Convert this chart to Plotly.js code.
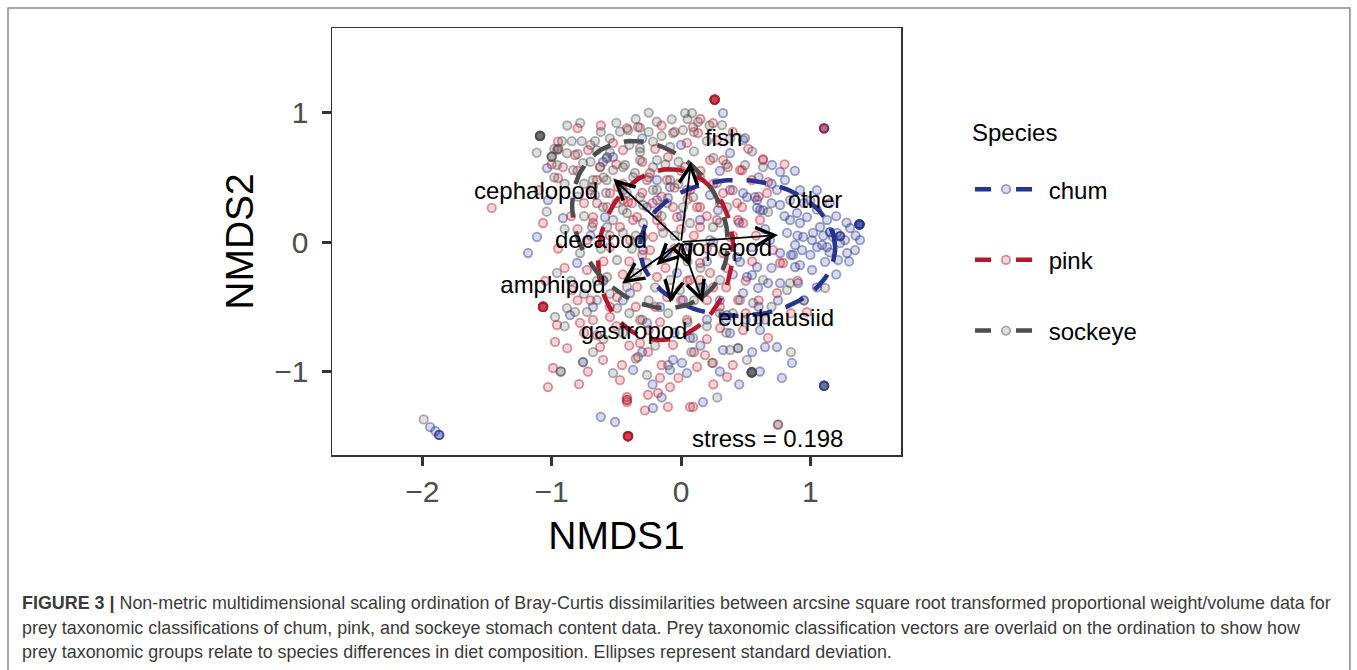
<!DOCTYPE html>
<html><head><meta charset="utf-8">
<script src="https://cdn.plot.ly/plotly-3.0.1.min.js"></script>
<style>html,body{margin:0;padding:0;background:#fff}#chart{width:1357px;height:670px}</style>
</head><body><div id="chart"></div>
<script>
// ---------- data ----------
const species = ['chum', 'pink', 'sockeye'];
const speciesRGB = ['39,52,143', '181,23,44', '77,77,77'];

const chumPts = [
[-1.036,0.571],[-1.029,0.324],[-0.913,0.185],[-1.114,0.039],[-1.183,-0.085],[-0.603,0.618],[-0.526,0.656],[-0.588,0.193],[-0.317,0.0],[-0.186,0.324],[-0.101,0.34],
[0.325,0.996],[0.495,0.803],[0.379,0.687],[0.704,0.595],[0.766,0.541],[0.804,0.479],[0.51,0.347],[0.572,0.347],[0.588,0.263],[0.843,0.17],[0.92,0.147],[0.897,0.224],[0.974,0.193],[0.82,0.07],[0.944,0.039],[1.021,0.07],[1.052,-0.039],[1.129,-0.039],[1.206,0.07],[1.23,-0.008],[1.284,-0.085],[0.936,-0.062],[0.882,-0.023],[0.549,-0.039],[0.688,0.015],[0.766,-0.085],[1.129,0.17],[1.176,0.039],[1.075,0.116],[0.224,0.363],[0.286,0.247],[0.046,0.402],
[1.268,0.015],[1.09,-0.023],[1.013,0.015],[1.307,0.108],
[0.92,0.40],[1.0,0.32],[0.843,0.324],[0.766,0.286],[0.611,0.247],[1.384,0.015],[1.346,-0.062],[1.214,-0.139],[1.114,-0.154],[1.013,-0.216],[0.92,-0.178],
[-0.804,-0.162],[-0.858,-0.564],[-0.758,-0.927],[-0.371,-0.988],[-0.217,-1.282],[-0.51,-1.39],[-0.062,-0.911],[-0.085,-0.988],[-0.681,-0.502],[-0.263,-0.625],
[0.866,-0.1],[0.549,-0.255],[0.596,-0.355],[0.673,-0.317],[0.766,-0.317],[0.905,-0.317],[0.882,-0.193],[0.456,-0.154],[0.611,-0.68],[0.65,-0.811],[0.742,-0.811],[0.858,-0.934],[0.17,-1.236],[0.046,-1.012],[0.008,-0.934],[0.379,-0.703],[0.325,-0.834],[0.441,-0.819],[0.356,-0.564],[0.48,-0.394],
[-1.94,-1.43],[-1.90,-1.46],[-1.87,-1.49],
[-0.186,0.479],[-0.085,0.425],[-0.263,0.27],[0.147,0.17],[0.07,-0.039],[-0.108,-0.085],[-0.294,-0.062],[-0.031,-0.239],[0.17,-0.347],[0.015,-0.448],[-0.162,-0.502],[0.51,-0.27],[0.588,-0.193],[0.379,0.402],[0.48,0.378],[0.588,0.324],[0.433,-0.116],[0.742,0.402],[0.634,0.247],[-0.394,-0.394],[-0.572,0.656],
[-0.62,-1.35],[-0.22,-1.1],[0.61,-1.0],[0.07,-0.74],
[0.6,0.5],[0.7,0.45],[0.95,0.3],[1.05,0.25],[1.15,0.3],[1.2,0.2],[1.28,0.15],[1.35,0.05],[1.3,-0.15],[1.2,-0.25],[1.05,-0.35],[0.95,-0.45],[0.75,-0.45],[0.6,-0.5],[0.5,-0.6],[0.3,-0.45],[0.2,-0.6],[0.15,-0.8],[0.55,-0.85],[0.3,-1.0],[0.45,-1.1],[-0.05,-0.7],[-0.3,-0.85],[-0.45,-0.45],[-0.6,-0.3],[-0.7,0.05],[-0.45,0.4],[-0.3,0.8],[0.0,0.75],[0.3,0.55],[0.25,0.0],[0.4,-0.25],[0.0,0.2],[0.65,0.1],[0.85,-0.1],[0.7,-0.2],[1.05,0.4],[0.88,0.55],[-0.15,-1.2],[0.78,-1.05],
[0.8,0.2],[0.9,0.05],[1.0,-0.1],[1.1,0.05],[1.15,-0.08],[0.7,0.3],[0.45,0.15],[0.2,-0.15],[0.35,-0.6],[0.65,-0.6]
];
// repeated (identical) samples: [x, y, count]
const chumStacks = [[1.23,0.046,3],[1.152,0.077,2],[1.38,0.137,8],[1.106,0.878,3],[1.106,-1.11,5],[-1.87,-1.49,2],[0.547,-1.006,2]];

const pinkPts = [
[-0.951,0.775],[-0.82,0.672],[-0.951,0.494],[-0.719,0.71],[-0.526,0.764],[-0.418,0.88],[-0.333,0.888],[-1.464,0.263],[-1.067,0.147],[-0.959,0.71],[-0.913,0.579],[-0.65,0.479],[-0.487,0.425],[-0.41,0.309],[-0.263,0.479],[-0.681,0.193],[-0.572,0.27],[-0.472,0.116],[-0.371,0.17],[-0.186,0.17],[-0.294,0.039],[-0.062,0.27],[-0.101,0.656],[-0.727,0.015],
[0.093,0.888],[0.131,0.842],[0.046,0.765],[0.247,0.919],[0.278,0.788],[0.031,0.579],[0.224,0.633],[0.472,0.556],[0.634,0.641],[0.673,0.463],[0.325,0.378],[0.472,0.27],[0.124,0.27],[0.441,0.17],[0.147,0.116],[0.611,0.17],[0.665,0.378],[0.549,0.479],[0.363,0.579],
[-0.959,-0.641],[-0.974,-0.772],[-0.99,-0.973],[-1.029,-1.12],[-0.781,-0.625],[-0.626,-0.811],[-0.603,-0.911],[-0.456,-0.95],[-0.418,-1.197],[-0.418,-1.236],[-0.317,-0.78],[-0.255,-0.849],[-0.178,-1.166],[-0.085,-1.12],[-0.101,-1.274],[-0.681,-0.602],[-0.549,-0.579],[-0.727,-0.216],[-0.843,-0.371],
[0.766,-0.162],[0.742,-0.394],[0.974,-0.541],[0.673,-0.741],[0.093,-1.274],[0.356,-1.042],[0.247,-0.934],[0.124,-0.965],[0.147,-0.293],[0.046,-0.602],[0.201,-0.448],[0.441,-0.448],[0.302,-0.664],[0.48,-0.68],
[-0.108,0.479],[-0.24,0.533],[0.07,0.402],[0.147,0.27],[-0.031,0.193],[-0.186,0.224],[-0.34,0.193],[-0.449,0.324],[-0.549,0.378],[-0.217,0.039],[-0.394,0.015],[-0.549,-0.039],[-0.24,-0.062],[0.147,-0.162],[0.224,-0.239],[0.07,-0.293],[-0.186,-0.27],[-0.34,-0.347],[-0.495,-0.425],[-0.108,-0.425],[0.325,-0.085],[0.379,0.039],[0.48,0.147],[0.278,0.17],[0.433,0.301],[0.456,0.556],[0.325,0.633],[-0.626,0.579],[-0.449,0.71],[-0.68,0.147],[-0.603,-0.293],[0.789,-0.162],[0.711,-0.062],[0.634,0.633],
[-0.789,-1.097],[-0.255,-1.18],[0.07,-1.274],[-0.472,-1.066],[-0.162,-1.05],[0.186,-0.873],[-0.062,-0.795],[-0.317,-0.602],[-0.162,-0.618],
[-0.8,0.1],[-0.9,-0.2],[-0.05,-0.05],[0.0,0.1],[-0.15,0.35],[0.25,0.45],[0.35,-0.35],[-0.7,-0.45],[-0.35,-0.5],[0.55,-0.15],
[-0.7,0.4],[-0.75,0.3],[-0.45,0.45],[-0.3,0.62],[-0.2,0.72],[-0.05,0.85],[0.15,0.55],[0.3,0.3],[0.4,0.05],[0.2,-0.05],[-0.4,-0.15],[-0.6,-0.15],[-0.8,-0.45],[-0.5,-0.65],[-0.25,-0.68],[0.0,-0.45],[0.3,-0.5],[0.5,-0.55],[0.6,-0.45],[0.1,-0.85],[-0.35,-0.9],[-0.65,-0.72],[-0.88,-0.82],[-0.55,0.05],[-0.15,0.12],[0.05,0.33],[0.2,0.2],[-0.3,0.38],[-0.12,-0.2],[0.35,-0.2],[0.58,0.05],[0.6,0.35],[0.8,0.6],[0.52,0.72],[0.4,0.85],[-0.62,0.9],[-0.8,0.88],[-1.0,0.6],[-1.1,0.4],[-0.85,0.2],[-0.95,-0.05],[-1.05,-0.3],[-0.72,-1.0],[-0.15,-0.95],[0.25,-1.1],[0.4,-0.95],[0.9,-0.3],[0.85,-0.55],[-0.02,-1.05],[-0.28,-1.3],
[-0.5,0.6],[-0.38,0.3],[-0.22,0.3],[-0.05,0.42],[0.1,0.05],[-0.3,-0.1],[-0.45,-0.25],[-0.2,-0.5],[0.05,-0.3],[0.25,-0.35],[-0.65,0.3],[-0.8,0.55],[-0.15,0.9],[0.15,0.95],[0.4,0.4],[0.5,-0.3],[-0.55,-0.5],[-0.75,-0.7],[-0.4,-0.8],[0.2,-0.75]
];
const pinkStacks = [[-1.067,-0.50,8],[-0.41,-1.50,8],[0.26,1.10,8],[1.106,0.878,2],[-0.418,-1.22,2],[0.75,-1.41,1]];

const sockeyePts = [
[-1.116,0.69],[-0.845,0.78],[-0.768,0.78],[-0.665,0.78],[-0.472,0.852],[-0.41,0.865],[-0.317,0.883],[-0.188,0.929],[-0.072,0.948],[-0.062,0.842],[-0.217,0.775],[-0.317,0.697],[-0.575,0.646],[-0.626,0.581],[-0.433,0.595],[-0.356,0.533],[-0.317,0.633],[-0.681,0.425],[-1.039,0.234],[-0.665,0.363],[-0.575,0.479],[-0.217,0.579],[-0.085,0.479],[-0.526,0.17],[-0.418,0.224],[-0.294,0.286],[-0.186,0.402],[-0.781,-0.085],[-0.688,0.116],[-0.835,0.556],[-0.959,0.595],[-0.882,0.687],[-0.758,0.61],[-0.526,0.556],
[0.031,0.996],[0.085,0.996],[0.131,0.927],[0.317,0.903],[0.48,0.788],[0.015,0.865],[0.495,0.595],[0.634,0.579],[0.356,0.27],[0.673,0.232],[0.247,0.116],
[-0.959,-0.239],[-0.882,-0.51],[-0.82,-0.54],[-0.727,-0.54],[-0.974,-0.579],[-0.758,-0.927],[-0.333,-0.888],[-0.263,-1.027],[-0.526,-1.012],[-0.572,-0.27],[-0.418,-0.347],[-0.65,-0.448],[-0.495,-0.51],
[1.114,-0.355],[0.82,-0.371],[0.557,-0.471],[0.379,-0.834],[0.51,-0.911],[0.441,-0.819],[0.093,-0.741],[0.24,-0.934],[0.843,-0.317],
[-0.65,0.71],[-0.55,0.69],[-0.317,0.726],[-0.186,0.633],[-0.085,0.734],[-0.68,0.479],[-0.317,0.347],[-0.217,0.402],[-0.108,0.301],[0.015,0.27],[0.07,0.147],[0.224,0.015],[-0.294,0.147],[-0.139,0.07],[-0.449,0.07],[-0.572,0.116],[-0.495,-0.139],[-0.34,-0.239],[-0.263,-0.162],[-0.085,-0.293],[-0.008,-0.371],[0.302,-0.293],[0.456,-0.448],[0.634,-0.293],[0.278,0.456],[0.147,0.502],[0.093,0.347],[-0.449,0.579],[-0.371,0.502],[-0.603,0.27],
[-0.3,-0.6],[-0.1,-0.55],[0.05,-0.62],[-0.8,0.35],[-0.9,0.45],[0.2,0.78],[0.1,0.7],[-0.5,0.92],[-0.62,0.85],[-0.92,0.78],[-0.98,0.72],[-0.75,0.2],[-0.85,-0.3],[-0.6,-0.75],[-0.2,-0.8],[0.3,-0.55],[0.15,-0.2],[-0.05,0.05],
[-1.99,-1.37],[0.75,-1.41],[1.106,-1.11],
[-0.75,0.45],[-0.58,0.38],[-0.42,0.38],[-0.25,0.5],[-0.12,0.6],[-0.02,0.62],[0.1,0.85],[0.22,0.9],[0.38,0.8],[0.55,0.7],[-0.88,0.9],[-0.78,0.92],[-0.35,0.95],[-0.25,1.0],[-0.15,0.82],[-0.7,0.62],[-0.98,0.5],[-0.9,0.1],[-0.62,-0.05],[-0.38,-0.05],[-0.2,-0.35],[0.1,-0.45],[0.2,-0.65],[0.35,-0.7],[-0.45,-0.7],[-0.1,-0.95],[0.05,-0.15],[-0.02,0.45],[0.35,0.6],[0.6,-0.6],[0.7,-0.5],[0.95,-0.45],[-0.9,-0.65],[-0.68,-0.85],[-0.4,-0.55],[0.3,0.15],[-0.45,0.25],[0.08,-0.85],[0.85,-0.85],[0.28,-1.2],
[-0.55,0.8],[-0.4,0.75],[-0.7,0.75],[-0.8,0.68],[-0.25,0.85],[0.0,0.55],[-0.5,0.3],[-0.35,0.05],[-0.65,-0.3],[-0.75,-0.4],[-0.55,-0.4],[-0.25,-0.45],[0.15,-0.35],[0.4,-0.55],[0.05,0.95],[0.25,0.65],[-0.6,0.5],[-0.15,0.2]
];
const sockeyeStacks = [[-1.09,0.82,8],[0.547,-1.006,6],[-1.0,0.66,3],[-0.95,0.72,2],[-0.93,-1.0,2]];

// standard-deviation ellipses: centre, semi-axes, rotation (deg)
const ellCX = [0.437, -0.12, -0.24];
const ellCY = [-0.046, -0.097, 0.135];
const ellA = [0.755, 0.663, 0.691];
const ellB = [0.525, 0.519, 0.549];
const ellAngle = [0, 81.7, -54];

// prey vectors (envfit)
const vecNames = ['fish','cephalopod','other','amphipod','gastropod','euphausiid','decapod','copepod'];
const vecX = [0.077, -0.525, 0.75, -0.456, -0.085, 0.17, -0.19, 0.07];
const vecY = [0.62, 0.49, 0.054, -0.32, -0.47, -0.47, -0.18, -0.19];
const labX = [0.329, -1.121, 1.036, -0.99, -0.363, 0.735, -0.619, 0.348];
const labY = [0.788, 0.378, 0.311, -0.345, -0.703, -0.606, 0.002, -0.062];

const stressText = 'stress = 0.198';
const stressX = 0.666, stressY = -1.516;

const xTicks = [-2, -1, 0, 1];
const yTicks = [-1, 0, 1];

const captionLines = [
 '<b>FIGURE 3 |</b> Non-metric multidimensional scaling ordination of Bray-Curtis dissimilarities between arcsine square root transformed proportional weight/volume data for',
 'prey taxonomic classifications of chum, pink, and sockeye stomach content data. Prey taxonomic classification vectors are overlaid on the ordination to show how',
 'prey taxonomic groups relate to species differences in diet composition. Ellipses represent standard deviation.'
];

// ---------- build ----------
const FONT = 'Liberation Sans, Arial, Helvetica, sans-serif';
const allPts = [chumPts, pinkPts, sockeyePts];
const allStacks = [chumStacks, pinkStacks, sockeyeStacks];
const traces = [];

function markerStyle(i) {
  return {size: 8.5, color: 'rgba(' + speciesRGB[i] + ',0.18)',
          line: {color: 'rgba(' + speciesRGB[i] + ',0.45)', width: 1.8}};
}

allPts.forEach((pts, i) => {
  const xs = pts.map(p => p[0]), ys = pts.map(p => p[1]);
  allStacks[i].forEach(s => { for (let k = 0; k < s[2]; k++) { xs.push(s[0]); ys.push(s[1]); } });
  traces.push({type: 'scatter', mode: 'markers', x: xs, y: ys,
    marker: markerStyle(i), showlegend: false, hoverinfo: 'skip'});
});

const dashStyle = '20px,14px';
species.forEach((s, i) => {
  const ex = [], ey = [];
  const th = ellAngle[i] * Math.PI / 180;
  for (let k = 0; k <= 120; k++) {
    const t = 2 * Math.PI * k / 120;
    const u = ellA[i] * Math.cos(t), v = ellB[i] * Math.sin(t);
    ex.push(ellCX[i] + u * Math.cos(th) - v * Math.sin(th));
    ey.push(ellCY[i] + u * Math.sin(th) + v * Math.cos(th));
  }
  traces.push({type: 'scatter', mode: 'lines', x: ex, y: ey, showlegend: false, hoverinfo: 'skip',
    line: {color: 'rgb(' + speciesRGB[i] + ')', width: 4.5, dash: dashStyle}});
});

// legend entries
species.forEach((s, i) => {
  traces.push({type: 'scatter', mode: 'lines+markers', x: [null], y: [null], name: '\u00a0' + s,
    legendgroup: s, marker: markerStyle(i),
    line: {color: 'rgb(' + speciesRGB[i] + ')', width: 4.5, dash: '16px,25px'}});
});

// vector labels
traces.push({type: 'scatter', mode: 'text', x: labX, y: labY, text: vecNames, showlegend: false,
  hoverinfo: 'skip', textfont: {family: FONT, size: 24, color: '#000'}, textposition: 'middle center'});

const annotations = vecNames.map((n, i) => ({
  x: vecX[i], y: vecY[i], ax: 0, ay: 0, xref: 'x', yref: 'y', axref: 'x', ayref: 'y',
  text: '', showarrow: true, arrowhead: 5, arrowsize: 2.0, arrowwidth: 1.8, arrowcolor: '#000', standoff: 0
}));

annotations.push({x: stressX, y: stressY, xref: 'x', yref: 'y', text: stressText, showarrow: false,
  font: {family: FONT, size: 24, color: '#000'}});

annotations.push({x: 1.1213, y: 0.7564, xref: 'paper', yref: 'paper', xanchor: 'left', yanchor: 'middle',
  text: 'Species', showarrow: false, font: {family: FONT, size: 24, color: '#000'}});

const capY = [-0.3466, -0.4052, -0.4614];
captionLines.forEach((t, i) => {
  annotations.push({x: -0.548, y: capY[i], xref: 'paper', yref: 'paper', xanchor: 'left', yanchor: 'middle',
    text: t, showarrow: false, align: 'left', font: {family: FONT, size: 17.9, color: '#3a3a3a'}});
});

const axisCommon = {
  showgrid: false, zeroline: false, showline: true, mirror: true, linecolor: '#333', linewidth: 1.5,
  ticks: 'outside', ticklen: 9, tickwidth: 3, tickcolor: '#333',
  tickfont: {family: FONT, size: 30, color: '#4d4d4d'}
};

const layout = {
  width: 1357, height: 670,
  margin: {l: 332, r: 456, t: 28, b: 215},
  paper_bgcolor: '#fff', plot_bgcolor: '#fff',
  font: {family: FONT},
  xaxis: Object.assign({}, axisCommon, {range: [-2.699, 1.701], tickvals: xTicks,
    title: {text: 'NMDS1', font: {family: FONT, size: 39, color: '#000'}, standoff: 15}}),
  yaxis: Object.assign({}, axisCommon, {range: [-1.645, 1.653], tickvals: yTicks, ticklabelstandoff: 7,
    title: {text: 'NMDS2', font: {family: FONT, size: 39, color: '#000'}, standoff: 8}}),
  legend: {x: 1.1213, y: 0.6744, xanchor: 'left', yanchor: 'top', bgcolor: 'rgba(0,0,0,0)',
    font: {family: FONT, size: 24, color: '#000'}, tracegroupgap: 36.5, itemwidth: 62},
  annotations: annotations,
  shapes: [{type: 'rect', xref: 'paper', yref: 'paper', x0: -0.5694, x1: 1.789, y0: -0.6, y1: 1.0468,
    line: {color: '#8a8a8a', width: 1.5}, fillcolor: 'rgba(0,0,0,0)', layer: 'below'}]
};

Plotly.newPlot('chart', traces, layout, {staticPlot: true, displayModeBar: false});
</script>
</body></html>
